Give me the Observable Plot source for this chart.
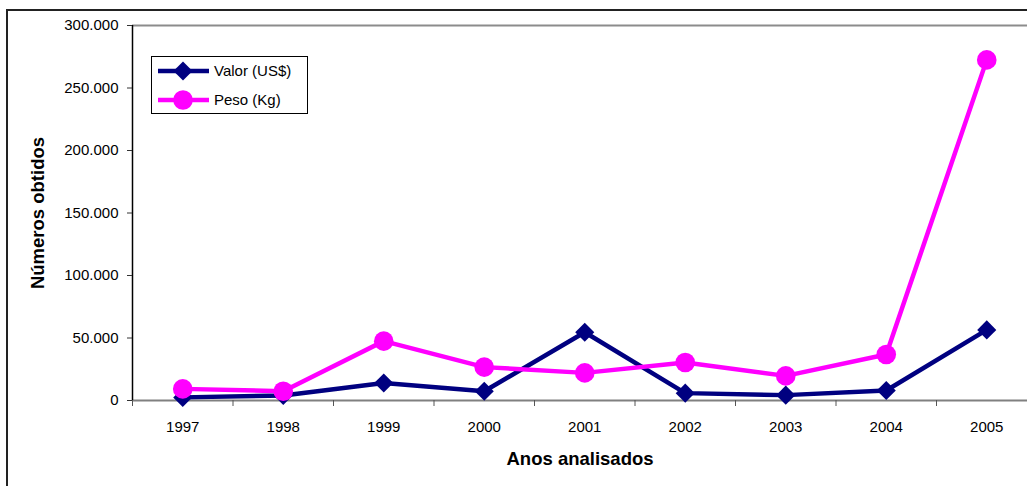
<!DOCTYPE html>
<html>
<head>
<meta charset="utf-8">
<script src="https://cdn.jsdelivr.net/npm/d3@7"></script>
<script src="https://cdn.jsdelivr.net/npm/@observablehq/plot@0.6"></script>
<style>
  html, body { margin: 0; padding: 0; background: #fff; }
  #wrap { position: relative; width: 1027px; height: 486px; overflow: hidden; background: #fff; font-family: "Liberation Sans", Arial, sans-serif; }
  #chart { position: absolute; left: 0; top: 0; }
  #outer { position: absolute; left: 6px; top: 9px; width: 1200px; height: 700px; border: 2px solid #222; pointer-events: none; }
  #legend { position: absolute; left: 151px; top: 56px; width: 155px; height: 56px; border: 1px solid #000; background: #fff; }
  #legend svg { position: absolute; left: 0; top: 0; }
</style>
</head>
<body>
<div id="wrap">
  <div id="chart"></div>
  <div id="outer"></div>
  <div id="legend"></div>
</div>
<script>
// ---- data ----
const years = [1997, 1998, 1999, 2000, 2001, 2002, 2003, 2004, 2005];
const valor = [2500, 4000, 14000, 7400, 54600, 5900, 4300, 8000, 56500];
const peso  = [9300, 7400, 47500, 26700, 22100, 30400, 19700, 36800, 272500];
const yTicks = [0, 50000, 100000, 150000, 200000, 250000, 300000];
const seriesNames = ["Valor (US$)", "Peso (Kg)"];
const xTitle = "Anos analisados";
const yTitle = "Números obtidos";

const navy = "#000080";
const magenta = "#ff00ff";

const valorData = years.map((yr, i) => ({year: yr, value: valor[i]}));
const pesoData = years.map((yr, i) => ({year: yr, value: peso[i]}));
const boundaries = years.map(y => y - 0.5).concat([years[years.length - 1] + 0.5]);
const fmt = d => d3.format(",")(d).replace(/,/g, ".");

const plot = Plot.plot({
  width: 1027,
  height: 486,
  marginTop: 25,
  marginBottom: 86,
  marginLeft: 132,
  marginRight: 0,
  style: {fontFamily: "'Liberation Sans', Arial, sans-serif", fontSize: "15px", background: "transparent", overflow: "hidden"},
  x: {type: "linear", domain: [1996.5, 2005.5], range: [132, 1036.5], axis: null},
  y: {domain: [0, 300000], axis: null},
  marks: [
    Plot.ruleY([300000], {stroke: "#8c8c8c", strokeWidth: 2}),
    Plot.ruleY([0], {stroke: "#808080", strokeWidth: 2}),
    Plot.ruleX(boundaries, {x: d => d, y1: 0, y2: 0, insetBottom: -6, stroke: "#555", strokeWidth: 1}),
    Plot.ruleX([1996.5], {stroke: "#000", strokeWidth: 1.5}),
    Plot.axisY({ticks: yTicks, tickSize: 5, tickPadding: 9, tickFormat: fmt, stroke: "#333", fill: "#000", label: null}),
    Plot.axisX({ticks: years, tickSize: 0, tickPadding: 21, tickFormat: d => String(d), fill: "#000", label: null}),
    Plot.text([xTitle], {frameAnchor: "bottom", dy: 59, textAnchor: "middle", lineAnchor: "middle", fontWeight: "bold", fontSize: 18.5, fill: "#000"}),
    Plot.text([yTitle], {frameAnchor: "left", dx: -94, rotate: -90, textAnchor: "middle", lineAnchor: "middle", fontWeight: "bold", fontSize: 18.5, fill: "#000"}),
    Plot.line(valorData, {x: "year", y: "value", stroke: navy, strokeWidth: 4.5}),
    Plot.dot(valorData, {x: "year", y: "value", symbol: "diamond2", r: 8.6, fill: navy, stroke: "none"}),
    Plot.line(pesoData, {x: "year", y: "value", stroke: magenta, strokeWidth: 4.5}),
    Plot.dot(pesoData, {x: "year", y: "value", r: 9.8, fill: magenta, stroke: "none"})
  ]
});
document.getElementById("chart").appendChild(plot);

// ---- legend ----
const leg = d3.select("#legend").append("svg").attr("width", 155).attr("height", 56);
const rows = [
  {name: seriesNames[0], color: navy, shape: "diamond", y: 14},
  {name: seriesNames[1], color: magenta, shape: "circle", y: 43}
];
rows.forEach(r => {
  leg.append("line").attr("x1", 6).attr("x2", 57).attr("y1", r.y).attr("y2", r.y)
    .attr("stroke", r.color).attr("stroke-width", 4.5);
  if (r.shape === "diamond") {
    leg.append("path").attr("d", d3.symbol(d3.symbolDiamond2, 8.6 * 8.6 * Math.PI)())
      .attr("transform", `translate(31,${r.y})`).attr("fill", r.color);
  } else {
    leg.append("circle").attr("cx", 31).attr("cy", r.y).attr("r", 9.8).attr("fill", r.color);
  }
  leg.append("text").attr("x", 62).attr("y", r.y).attr("dy", "0.35em")
    .attr("font-family", "'Liberation Sans', Arial, sans-serif").attr("font-size", 15)
    .attr("fill", "#000").text(r.name);
});
</script>
</body>
</html>
